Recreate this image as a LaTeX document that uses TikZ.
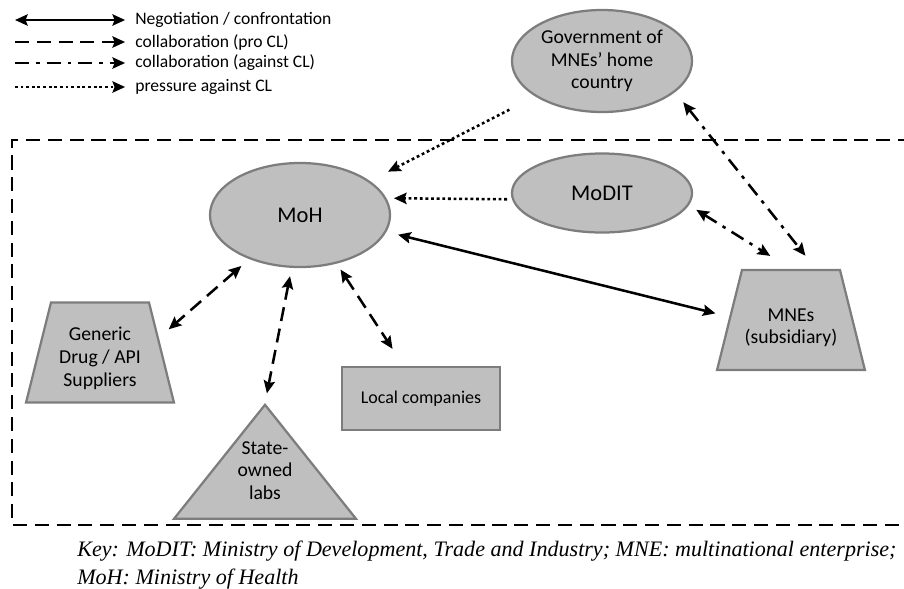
\documentclass[tikz,border=0pt]{standalone}
\usepackage{fontspec}
\setmainfont{Carlito}
\newfontfamily\keyfont{Liberation Serif}
\usetikzlibrary{arrows.meta,shapes.geometric,positioning}
\definecolor{shapefill}{RGB}{191,191,191}
\definecolor{shapeline}{RGB}{125,125,125}
\tikzset{nego/.style={line width=1.8pt,<->},procl/.style={line width=1.8pt,dash pattern=on 10pt off 5.5pt},
againstcl/.style={line width=1.8pt,dash pattern=on 10pt off 5pt on 2.5pt off 5pt},
pressure/.style={line width=1.8pt,dash pattern=on 2pt off 2pt}}

\begin{document}
\begin{tikzpicture}[x=0.025cm,y=-0.025cm,>={Stealth[length=9pt,width=8pt,inset=1.5pt]},font=\fontsize{14}{16}\selectfont]

\tikzset{ellnode/.style={shape=ellipse,fill=shapefill,draw=shapeline,line width=1.6pt,inner sep=0pt,align=center,minimum width=4.5cm},
trapnode/.style={shape=trapezium,trapezium angle=76,fill=shapefill,draw=shapeline,line width=1.6pt,inner sep=0pt},
boxnode/.style={shape=rectangle,fill=shapefill,draw=shapeline,line width=1.8pt,minimum width=3.95cm,minimum height=1.575cm,font=\fontsize{12.8}{14}\selectfont},
trinode/.style={shape=isosceles triangle,shape border rotate=90,isosceles triangle apex angle=77,isosceles triangle stretches,fill=shapefill,draw=shapeline,line width=1.6pt,inner sep=0pt,align=center,minimum width=4.55cm,minimum height=2.85cm},
legtext/.style={anchor=west,inner sep=0pt,font=\fontsize{12.5}{14}\selectfont},
bigtext/.style={font=\fontsize{16}{18}\selectfont}}

\clip (0,0) rectangle (904,588);

% Legend
\coordinate (k1) at (15,20); \coordinate (k2) at (15,42);
\coordinate (k3) at (15,63); \coordinate (k4) at (15,87);
\node[legtext] (t1) at (135,20) {Negotiation / confrontation};
\node[legtext] (t2) at (135,42) {collaboration (pro CL)};
\node[legtext] (t3) at (135,63) {collaboration (against CL)};
\node[legtext] (t4) at (135,87) {pressure against CL};
\draw[nego,shorten >=7pt] (k1) -- (t1.west);
\draw[procl,->,shorten >=7pt] (k2) -- (t2.west);
\draw[againstcl,->,shorten >=7pt] (k3) -- (t3.west);
\draw[pressure,->,shorten >=7pt] (k4) -- (t4.west);

% Country boundary
\draw[line width=1.5pt,dash pattern=on 10pt off 5.5pt] (912,140) -| (12,525) -- (912,525);

% Actors
\node[ellnode,minimum height=2.55cm] (gov) at (602,61) {Government of\\MNEs’ home\\country};
\node[ellnode,bigtext,minimum height=2.6cm] (moh) at (300,215) {MoH};
\node[ellnode,bigtext,minimum height=1.975cm] (modit) at (602,193) {MoDIT};
\node[trapnode] (mne) at (791,320) {\parbox[c][2.5cm][c]{2.45cm}{\centering\vspace*{11pt}MNEs\\(subsidiary)}};
\node[trapnode] (generic) at (100,352.5) {\parbox[c][2.5cm][c]{2.45cm}{\centering\fontsize{14}{16.5}\selectfont\vspace*{8pt}Generic\\Drug / API\\Suppliers}};
\node[boxnode] (local) at (421,398.5) {Local companies};
\node[trinode,anchor=apex] (labs) at (265,403) {State-\\owned\\labs\\[-3pt]\mbox{}};

% Pressure against CL
\draw[pressure,->,shorten <=20.6pt,shorten >=14.5pt] (gov.208) -- (moh.26);
\draw[pressure,->,shorten <=3.5pt,shorten >=5.3pt] (modit.184) -- (moh.11);

% Negotiation
\draw[nego,shorten <=8.5pt,shorten >=10pt] (moh.-11) -- (mne.177);

% Collaboration against CL
\draw[againstcl,<->,shorten <=6.2pt,shorten >=17.4pt] (modit.-8) -- (mne.north);
\draw[againstcl,<->,shorten <=9.2pt,shorten >=12pt] (gov.-23) -- (mne.64);

% Collaboration pro CL
\draw[procl,<->,shorten <=7.4pt,shorten >=9.2pt] (moh.221) -- (generic.14);
\draw[procl,<->,shorten <=6pt,shorten >=7pt] (moh.261) -- (labs.apex);
\draw[procl,<->,shorten <=5pt,shorten >=14.3pt] (moh.307) -- (local.118);

% Key
\node[anchor=north west,align=left,inner sep=0pt,font=\keyfont\itshape\fontsize{15.7}{20}\selectfont] (key) at (77,541)
{Key: MoDIT: Ministry of Development, Trade and Industry; MNE: multinational enterprise;\\MoH: Ministry of Health};

\end{tikzpicture}
\end{document}
